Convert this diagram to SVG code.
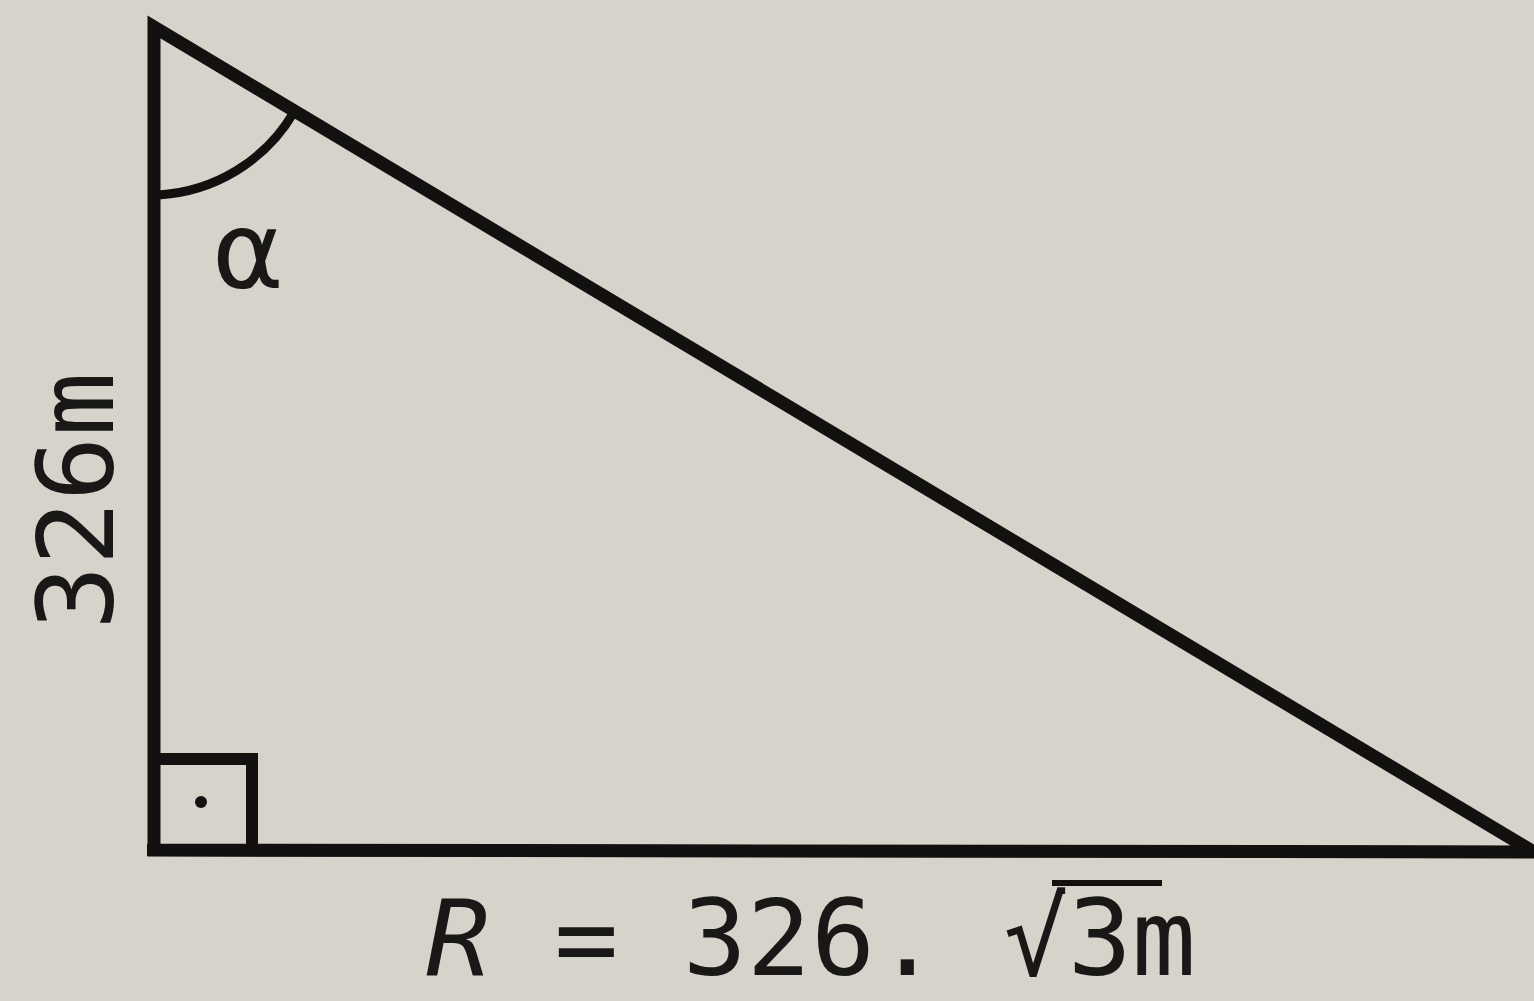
<svg xmlns="http://www.w3.org/2000/svg" width="1534" height="1001" viewBox="0 0 1534 1001">
<style>
.ln{stroke:#121110;fill:none;stroke-linecap:butt;stroke-linejoin:miter}
.t{font-family:"DejaVu Sans Mono","Liberation Mono",monospace;font-size:106px;fill:#1a1816}
</style>
<rect width="1534" height="1001" fill="#d5d3ca"/>
<g id="triangle">
<path class="ln" d="M154,850 L154,27 L1534,852 Z" stroke-width="13"/>
<path class="ln" d="M147,850 L1534,852" stroke-width="12"/>
</g>
<g id="angle-alpha">
<path class="ln" d="M158,195 A168,168 0 0 0 294,112" stroke-width="9"/>
<text class="t" x="214" y="288" textLength="68" lengthAdjust="spacingAndGlyphs">α</text>
</g>
<g id="right-angle">
<path class="ln" d="M154,759 L252,759 L252,850" stroke-width="12"/>
<circle cx="201" cy="802" r="6" fill="#121110"/>
</g>
<g id="label-side">
<text class="t" transform="translate(113,630) rotate(-90)" textLength="258" lengthAdjust="spacingAndGlyphs">326m</text>
</g>
<g id="label-base">
<text class="t" x="426" y="975" textLength="770" lengthAdjust="spacingAndGlyphs"><tspan font-style="italic">R</tspan> = 326. √3m</text>
<line class="ln" x1="1052" y1="883" x2="1162" y2="883" stroke-width="6"/>
</g>
</svg>
